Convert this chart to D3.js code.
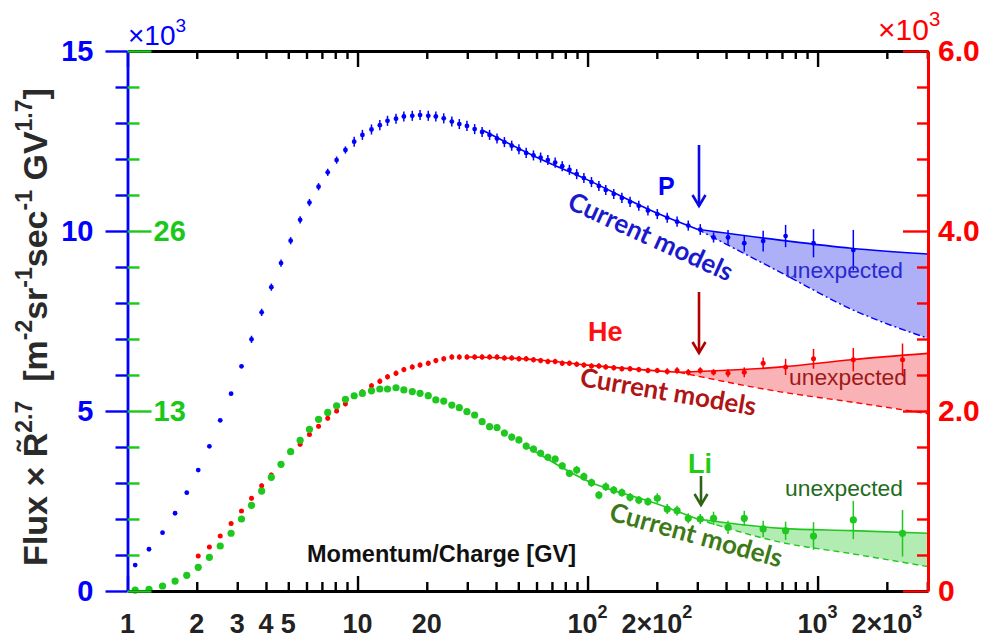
<!DOCTYPE html>
<html>
<head>
<meta charset="utf-8">
<title>Flux x R^2.7 : P, He, Li</title>
<script src="https://d3js.org/d3.v7.min.js"></script>
<style>
  body { margin: 0; background: #fff; }
  svg { display: block; }
</style>
</head>
<body>
<svg id="chart" width="988" height="639"></svg>
<script>
// rigidity bins [GV], shared by the three species
const rigidity = [1.08,1.24,1.42,1.61,1.81,2.03,2.27,2.53,2.82,3.13,
  3.46,3.83,4.22,4.65,5.12,5.63,6.18,6.77,7.42,8.11,
  8.86,9.67,10.5,11.5,12.5,13.5,14.7,15.9,17.3,18.7,
  20.3,21.9,23.7,25.7,27.7,29.9,32.3,34.8,37.5,40.4,
  43.5,46.8,50.3,54.1,58.2,62.5,67.2,72.3,77.6,83.4,
  89.7,96.4,104,112,120,130,141,153,167,183,
  201,222,245,274,309,353,408,480,580,726,
  960,1430,2340];

// proton, left blue axis (x10^3)
const protonFlux = [0.72,1.16,1.62,2.16,2.73,3.36,4.02,4.74,5.48,6.24,
  6.99,7.74,8.44,9.11,9.73,10.31,10.79,11.23,11.63,11.97,
  12.25,12.48,12.67,12.82,12.94,13.06,13.12,13.18,13.20,13.22,
  13.20,13.18,13.13,13.04,12.97,12.92,12.83,12.75,12.67,12.57,
  12.47,12.37,12.27,12.17,12.10,12.04,11.97,11.90,11.80,11.70,
  11.58,11.47,11.36,11.25,11.14,11.03,10.92,10.81,10.70,10.57,
  10.47,10.37,10.26,10.15,10.04,9.82,9.82,9.66,9.72,9.86,
  9.66,9.47,null];
const protonErr = [0.05,0.05,0.05,0.05,0.05,0.05,0.05,0.05,0.05,0.05,
  0.10,0.10,0.10,0.10,0.10,0.10,0.10,0.10,0.10,0.10,
  0.10,0.14,0.14,0.14,0.14,0.14,0.14,0.14,0.14,0.14,
  0.14,0.14,0.14,0.14,0.14,0.14,0.14,0.14,0.14,0.14,
  0.14,0.14,0.14,0.14,0.14,0.14,0.14,0.14,0.14,0.14,
  0.14,0.14,0.14,0.14,0.14,0.14,0.14,0.14,0.14,0.14,
  0.14,0.14,0.14,0.14,0.15,0.14,0.21,0.23,0.29,0.31,
  0.39,0.56,null];

// helium, right red axis (x10^3)
const heliumFlux = [null,null,null,null,null,0.39,0.49,0.61,0.75,0.89,
  1.03,1.17,1.29,1.41,1.55,1.63,1.74,1.83,1.92,2.00,
  2.08,2.17,2.21,2.28,2.33,2.38,2.42,2.46,2.49,2.51,
  2.53,2.56,2.58,2.60,2.60,2.60,2.60,2.60,2.60,2.60,
  2.59,2.59,2.58,2.58,2.57,2.56,2.55,2.55,2.53,2.53,
  2.52,2.51,2.50,2.50,2.49,2.48,2.47,2.47,2.46,2.45,
  2.45,2.44,2.45,2.43,2.45,2.43,2.42,2.43,2.53,2.49,
  2.58,2.57,2.57];
const heliumErr = [null,null,null,null,null,0.02,0.02,0.02,0.02,0.02,
  0.025,0.025,0.025,0.025,0.025,0.025,0.025,0.025,0.025,0.025,
  0.03,0.03,0.03,0.03,0.03,0.03,0.03,0.03,0.03,0.03,
  0.03,0.03,0.03,0.03,0.03,0.03,0.03,0.03,0.03,0.03,
  0.03,0.03,0.03,0.03,0.03,0.03,0.03,0.03,0.03,0.03,
  0.03,0.03,0.03,0.03,0.03,0.03,0.03,0.03,0.03,0.03,
  0.03,0.035,0.035,0.035,0.035,0.035,0.045,0.055,0.065,0.09,
  0.11,0.13,0.18];

// lithium, green inner axis
const lithiumFlux = [0.07,0.12,0.36,0.72,1.13,1.71,2.43,3.25,4.17,5.20,
  6.19,7.22,8.21,9.15,10.06,10.88,11.68,12.40,12.90,13.38,
  13.84,14.10,14.27,14.46,14.59,14.59,14.68,14.52,14.40,14.28,
  14.11,13.80,13.72,13.43,13.24,12.95,12.71,12.23,11.87,11.80,
  11.41,11.12,10.91,10.47,10.25,9.95,9.66,9.53,9.03,8.50,
  8.74,8.26,7.82,6.93,7.53,7.29,7.10,6.77,6.57,6.45,
  6.70,5.92,5.80,5.25,5.20,5.25,4.60,5.25,4.48,4.35,
  3.97,5.13,4.17];
const lithiumErr = [0.1,0.1,0.1,0.1,0.1,0.1,0.1,0.1,0.1,0.1,
  0.15,0.15,0.15,0.15,0.15,0.15,0.15,0.15,0.15,0.15,
  0.2,0.2,0.2,0.2,0.2,0.2,0.2,0.2,0.2,0.2,
  0.2,0.2,0.2,0.2,0.2,0.2,0.2,0.2,0.2,0.2,
  0.25,0.25,0.25,0.25,0.25,0.25,0.25,0.25,0.25,0.25,
  0.3,0.3,0.3,0.3,0.3,0.3,0.3,0.3,0.3,0.3,
  0.36,0.36,0.36,0.36,0.36,0.48,0.48,0.54,0.6,0.66,
  1.0,1.38,1.68];

// "current models" curves [R, value] and the "unexpected" upper edge
const protonModel = [[35,12.8],[60,12.05],[100,11.42],[200,10.5],[300,10.05],[700,8.83],[1400,7.83],[3020,7.02]];
const protonExcess = [[300,10.05],[700,9.74],[1400,9.52],[3020,9.36]];
const heliumModel = [[30,2.60],[60,2.57],[100,2.51],[250,2.43],[700,2.21],[1400,2.10],[3020,1.97]];
const heliumExcess = [[250,2.43],[700,2.49],[1400,2.57],[3020,2.64]];
const lithiumModel = [[55,10.4],[100,7.95],[200,6.3],[300,5.2],[700,3.5],[1400,2.7],[3020,1.76]];
const lithiumExcess = [[300,5.2],[700,4.52],[1400,4.36],[3020,4.17]];

// x tick labels
const xLabelValues = [1,2,3,4,5,10,20,100,200,1000,2000];
const xLabelBase = ["1","2","3","4","5","10","20","10","2\u00d710","10","2\u00d710"];
const xLabelExp = ["","","","","","","","2","2","3","3"];

const ARIAL = '"Liberation Sans", Arial, Helvetica, sans-serif';
const LATO = 'Lato, "Open Sans", sans-serif';

const svg = d3.select("#chart");

const x = d3.scaleLog().domain([1, 3020]).range([127.5, 928]);
const yP = d3.scaleLinear().domain([0, 15]).range([591, 51]);
const yHe = d3.scaleLinear().domain([0, 6]).range([591, 51]);
const yLi = d3.scaleLinear().domain([0, 39]).range([591, 51]);

function drawSpecies(vals, errs, model, excess, y, c) {
  const split = excess[0][0];
  const tail = model.filter(d => d[0] >= split);
  const band = excess.map((d, i) => [d[0], tail[i][1], d[1]]);

  svg.append("path").datum(band)
    .attr("fill", c.fill)
    .attr("d", d3.area().x(d => x(d[0])).y0(d => y(d[1])).y1(d => y(d[2])).curve(d3.curveMonotoneX));

  const line = d3.line().x(d => x(d[0])).y(d => y(d[1])).curve(d3.curveMonotoneX);
  svg.append("path").datum(model.filter(d => d[0] <= split))
    .attr("fill", "none").attr("stroke", c.line).attr("stroke-width", 1.6).attr("d", line);
  svg.append("path").datum(tail)
    .attr("fill", "none").attr("stroke", c.line).attr("stroke-width", 1.4)
    .attr("stroke-dasharray", c.dash).attr("d", line);
  svg.append("path").datum(excess)
    .attr("fill", "none").attr("stroke", c.line).attr("stroke-width", 1.6).attr("d", line);

  const pts = rigidity.map((r, i) => ({r: r, v: vals[i], e: errs[i]})).filter(d => d.v != null);
  const g = svg.append("g");
  g.selectAll("line").data(pts).join("line")
    .attr("x1", d => x(d.r)).attr("x2", d => x(d.r))
    .attr("y1", d => y(d.v - d.e)).attr("y2", d => y(d.v + d.e))
    .attr("stroke", c.point).attr("stroke-width", 1.5);
  g.selectAll("circle").data(pts).join("circle")
    .attr("cx", d => x(d.r)).attr("cy", d => y(d.v))
    .attr("r", c.r).attr("fill", c.point);
}

drawSpecies(protonFlux, protonErr, protonModel, protonExcess, yP,
  {fill: "#adaff7", line: "#0000ff", point: "#0000ff", dash: "7,3,2,3", r: 2.4});
drawSpecies(heliumFlux, heliumErr, heliumModel, heliumExcess, yHe,
  {fill: "#f9b2b6", line: "#ff0000", point: "#ff0000", dash: "6,4", r: 2.5});
drawSpecies(lithiumFlux, lithiumErr, lithiumModel, lithiumExcess, yLi,
  {fill: "#b2ecb2", line: "#1ec81e", point: "#1ec81e", dash: "6,4", r: 3.6});

// ---------- axes ----------
const xTicks = [1, 10, 100, 1000].flatMap(d => d3.range(1, 10).map(k => k * d)).filter(v => v <= 3020);
const isMajorX = v => [1, 10, 100, 1000].includes(v);

const gxb = svg.append("g").attr("transform", "translate(0,591)")
  .call(d3.axisBottom(x).tickValues(xTicks).tickSizeOuter(0).tickSizeInner(-9).tickFormat(""));
gxb.selectAll(".tick line").attr("y2", d => isMajorX(d) ? -15 : -9)
  .attr("stroke", "#000").attr("stroke-width", 2.4);
gxb.select(".domain").attr("stroke", "#000").attr("stroke-width", 2.8);

const gxt = svg.append("g").attr("transform", "translate(0,51)")
  .call(d3.axisTop(x).tickValues(xTicks).tickSizeOuter(0).tickSizeInner(-8).tickFormat(""));
gxt.selectAll(".tick line").attr("y2", d => isMajorX(d) ? 16 : 8)
  .attr("stroke", "#000").attr("stroke-width", 2.4);
gxt.select(".domain").attr("stroke", "#000").attr("stroke-width", 2.8);

xLabelValues.forEach((v, i) => {
  const t = svg.append("text")
    .attr("x", x(v)).attr("y", 633)
    .attr("text-anchor", "middle")
    .attr("font-family", ARIAL).attr("font-weight", "bold")
    .attr("font-size", 27).attr("fill", "#222");
  t.append("tspan").text(xLabelBase[i]);
  if (xLabelExp[i]) t.append("tspan").attr("font-size", 18).attr("dy", -15).text(xLabelExp[i]);
});

// blue (P) axis
const gyP = svg.append("g").attr("transform", "translate(127.5,0)")
  .call(d3.axisLeft(yP).tickValues(d3.range(0, 16)).tickSizeOuter(0)
    .tickSizeInner(22).tickPadding(12).tickFormat(d => d % 5 === 0 ? d : ""));
gyP.selectAll(".tick line").attr("x2", d => d % 5 === 0 ? -22 : -12)
  .attr("stroke", "#0000ff").attr("stroke-width", 2.4);
gyP.select(".domain").attr("stroke", "#0000ff").attr("stroke-width", 2.8);
gyP.selectAll("text").attr("font-family", ARIAL).attr("font-weight", "bold")
  .attr("font-size", 29).attr("fill", "#0000ff");

// green (Li) axis
const gyLi = svg.append("g").attr("transform", "translate(127.5,0)")
  .call(d3.axisRight(yLi).tickValues(d3.range(16).map(i => i * 2.6)).tickSizeOuter(0)
    .tickSizeInner(24).tickPadding(2)
    .tickFormat(d => Math.abs(d - 13) < 0.01 ? "13" : Math.abs(d - 26) < 0.01 ? "26" : ""));
gyLi.select(".domain").remove();
gyLi.selectAll(".tick line").attr("x2", d => Math.round(d / 2.6) % 5 === 0 ? 24 : 12)
  .attr("stroke", "#19c819").attr("stroke-width", 2.4);
gyLi.selectAll("text").attr("font-family", ARIAL).attr("font-weight", "bold")
  .attr("font-size", 29).attr("fill", "#19c819");

// red (He) axis
const gyHe = svg.append("g").attr("transform", "translate(928,0)")
  .call(d3.axisRight(yHe).tickValues(d3.range(16).map(i => i * 0.4)).tickSizeOuter(0)
    .tickSizeInner(-25).tickPadding(10)
    .tickFormat(d => {
      const i = Math.round(d / 0.4);
      return i % 5 ? "" : (i === 0 ? "0" : (i * 0.4).toFixed(1));
    }));
gyHe.selectAll(".tick line").attr("x2", d => Math.round(d / 0.4) % 5 === 0 ? -25 : -11)
  .attr("stroke", "#ff0000").attr("stroke-width", 2.4);
gyHe.select(".domain").attr("stroke", "#ff0000").attr("stroke-width", 3);
gyHe.selectAll("text").attr("font-family", ARIAL).attr("font-weight", "bold")
  .attr("font-size", 30).attr("fill", "#ff0000");

// exponent markers
function expLabel(px, py, size, color) {
  const t = svg.append("text").attr("x", px).attr("y", py)
    .attr("font-family", ARIAL).attr("font-size", size).attr("fill", color);
  t.append("tspan").text("\u00d710");
  t.append("tspan").attr("font-size", size * 0.68).attr("dy", -size * 0.47).text("3");
}
expLabel(128, 45, 28, "#0000ff");
expLabel(878, 40, 30, "#ff0000");

// axis titles
const yTitleParts = [["Flux \u00d7 R\u0303", 0], ["2.7", 1], ["  [m", 0], ["-2", 1], ["sr", 0], ["-1", 1],
  ["sec", 0], ["-1", 1], [" GV", 0], ["1.7", 1], ["]", 0]];
const yTitle = svg.append("text")
  .attr("transform", "translate(47,327) rotate(-90)")
  .attr("text-anchor", "middle")
  .attr("font-family", ARIAL).attr("font-weight", "bold")
  .attr("font-size", 34).attr("fill", "#2a2a2a")
  .style("white-space", "pre");
let raised = false;
yTitleParts.forEach(p => {
  const s = yTitle.append("tspan").text(p[0]);
  if (p[1] && !raised) { s.attr("font-size", 23).attr("dy", -15); raised = true; }
  else if (!p[1] && raised) { s.attr("dy", 15); raised = false; }
  else if (p[1]) s.attr("font-size", 23);
});

svg.append("text").attr("x", 307).attr("y", 562)
  .attr("font-family", ARIAL).attr("font-weight", "bold")
  .attr("font-size", 23.5).attr("fill", "#111")
  .text("Momentum/Charge [GV]");

// ---------- annotations ----------
function arrow(px, y0, y1, color) {
  svg.append("line").attr("x1", px).attr("x2", px).attr("y1", y0).attr("y2", y1)
    .attr("stroke", color).attr("stroke-width", 2.6);
  svg.append("polyline")
    .attr("points", `${px - 6.5},${y1 - 11} ${px},${y1} ${px + 6.5},${y1 - 11}`)
    .attr("fill", "none").attr("stroke", color).attr("stroke-width", 2.6);
}
arrow(699, 145, 206, "#0a0ae6");
arrow(699, 292, 353, "#b00000");
arrow(701, 476, 505, "#2f6414");

function label(px, py, txt, size, color, weight) {
  svg.append("text").attr("x", px).attr("y", py)
    .attr("font-family", ARIAL).attr("font-weight", weight)
    .attr("font-size", size).attr("fill", color).text(txt);
}
label(658, 195, "P", 25, "#0000ff", "bold");
label(588, 341, "He", 27, "#ff1010", "bold");
label(688, 473, "Li", 27, "#22cc11", "bold");

function models(px, py, angle, color) {
  svg.append("text")
    .attr("transform", `translate(${px},${py}) rotate(${angle})`)
    .attr("font-family", LATO).attr("font-weight", "bold")
    .attr("font-size", 26).attr("fill", color)
    .attr("textLength", 178).attr("lengthAdjust", "spacingAndGlyphs")
    .text("Current models");
}
models(566, 208, 24.5, "#1a1acd");
models(579, 386, 9.6, "#b01515");
models(608, 520, 15.5, "#3d7a17");

function unexpected(px, py, color) {
  svg.append("text").attr("x", px).attr("y", py)
    .attr("font-family", ARIAL).attr("font-size", 22).attr("fill", color)
    .attr("textLength", 118).attr("lengthAdjust", "spacingAndGlyphs")
    .text("unexpected");
}
unexpected(785, 278, "#2a2ad0");
unexpected(789, 385, "#a01818");
unexpected(785, 496, "#1f6b22");
</script>
</body>
</html>
